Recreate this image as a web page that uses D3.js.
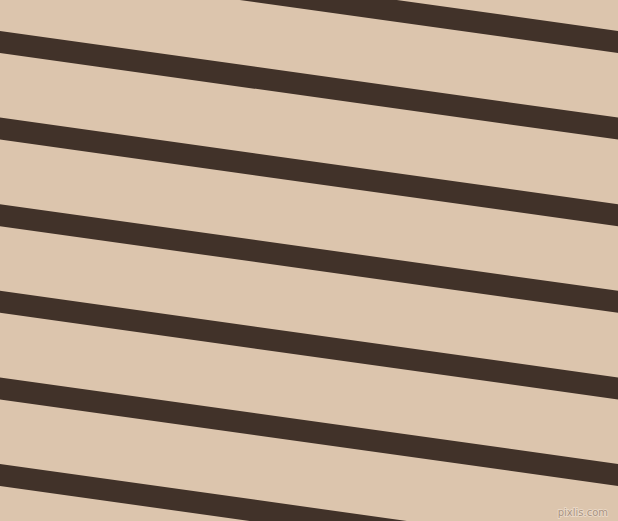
<!DOCTYPE html>
<html>
<head>
<meta charset="utf-8">
<script src="https://cdn.jsdelivr.net/npm/d3@7"></script>
<style>
html,body{margin:0;padding:0;overflow:hidden;background:#dcc5ad;}
svg{display:block;}
</style>
</head>
<body>
<script>
// stripe centre positions (y at the left edge, px) and the drop across the width
const stripeLeftY = [-44.6, 42, 128.6, 215.2, 301.8, 388.4, 475, 561.6];
const stripeDrop = [86.6];
const stripeWidth = [21.8];
const colors = ["#dcc5ad", "#413229"];
const watermark = ["pixlis.com"];

const W = 618, H = 521;
const svg = d3.select("body").append("svg").attr("width", W).attr("height", H);
const x = d3.scaleLinear().domain([0, 1]).range([0, W]);
const y = d3.scaleLinear().domain([0, H]).range([0, H]);

svg.append("rect").attr("width", W).attr("height", H).attr("fill", colors[0]);

svg.selectAll("line.stripe").data(stripeLeftY).join("line")
  .attr("class", "stripe")
  .attr("x1", x(0) - 20).attr("x2", x(1) + 20)
  .attr("y1", d => y(d - stripeDrop[0] * 20 / W))
  .attr("y2", d => y(d + stripeDrop[0] * (W + 20) / W))
  .attr("stroke", colors[1])
  .attr("stroke-width", stripeWidth[0]);

svg.append("text").text(watermark[0])
  .attr("x", 608).attr("y", 516)
  .attr("text-anchor", "end")
  .attr("font-family", "DejaVu Sans, sans-serif")
  .attr("font-size", 10)
  .attr("paint-order", "stroke")
  .attr("stroke", "#ecdccb").attr("stroke-width", 1.5)
  .attr("fill", "#a89281");
</script>
</body>
</html>
